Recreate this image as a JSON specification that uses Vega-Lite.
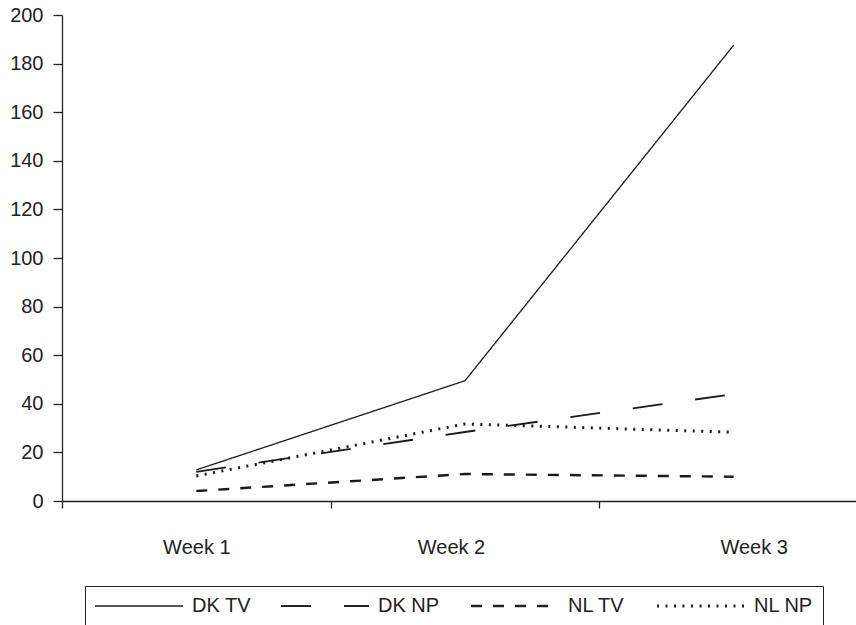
{
  "$schema": "https://vega.github.io/schema/vega-lite/v6.json",
  "width": 794,
  "height": 486,
  "autosize": {"type": "none"},
  "padding": {"left": 62, "top": 15, "right": 0, "bottom": 124},
  "background": "white",
  "config": {
    "view": {"stroke": null},
    "font": "Liberation Sans",
    "axis": {
      "domainColor": "#222",
      "tickColor": "#222",
      "labelColor": "#222",
      "labelFont": "Liberation Sans",
      "labelFontSize": 20,
      "grid": false,
      "title": null,
      "domainWidth": 1.3,
      "tickWidth": 1.3
    }
  },
  "data": {
    "values": [
      {"week": "Week 1", "series": "DK TV", "value": 12.8},
      {"week": "Week 2", "series": "DK TV", "value": 49.5},
      {"week": "Week 3", "series": "DK TV", "value": 187.6},
      {"week": "Week 1", "series": "DK NP", "value": 12},
      {"week": "Week 2", "series": "DK NP", "value": 28.4},
      {"week": "Week 3", "series": "DK NP", "value": 44},
      {"week": "Week 1", "series": "NL TV", "value": 4.1},
      {"week": "Week 2", "series": "NL TV", "value": 11.1},
      {"week": "Week 3", "series": "NL TV", "value": 10},
      {"week": "Week 1", "series": "NL NP", "value": 10.3},
      {"week": "Week 2", "series": "NL NP", "value": 31.7},
      {"week": "Week 3", "series": "NL NP", "value": 28.3}
    ]
  },
  "mark": {"type": "line", "color": "#1a1a1a"},
  "encoding": {
    "x": {
      "field": "week",
      "type": "ordinal",
      "scale": {"type": "band", "range": [0, 806], "paddingInner": 0, "paddingOuter": 0},
      "axis": {
        "labelAngle": 0,
        "tickBand": "extent",
        "tickSize": 7,
        "labelPadding": 29,
        "labelOffset": {"expr": "datum.label == 'Week 2' ? -14 : datum.label == 'Week 3' ? 20 : 0"}
      }
    },
    "y": {
      "field": "value",
      "type": "quantitative",
      "scale": {"domain": [0, 200]},
      "axis": {"values": [0, 20, 40, 60, 80, 100, 120, 140, 160, 180, 200], "tickSize": 9, "labelPadding": 10}
    },
    "strokeDash": {
      "field": "series",
      "type": "nominal",
      "scale": {
        "domain": ["DK TV", "DK NP", "NL TV", "NL NP"],
        "range": [[1, 0], [30, 33], [11, 11], [2, 6.5]]
      },
      "legend": {
        "title": null,
        "orient": "none",
        "legendX": 23,
        "legendY": 571,
        "direction": "horizontal",
        "columns": 4,
        "strokeColor": "#222",
        "padding": 10,
        "labelFont": "Liberation Sans",
        "labelFontSize": 20,
        "labelColor": "#222",
        "symbolType": "M-2,0H15.6",
        "symbolSize": 100,
        "symbolFillColor": "transparent",
        "symbolStrokeColor": "#222",
        "symbolStrokeWidth": 1.2,
        "labelOffset": 77,
        "columnPadding": 26,
        "encode": {
          "symbols": {
            "enter": {
              "strokeDash": {"signal": "datum.label == 'DK NP' ? [29, 30] : datum.label == 'NL TV' ? [5, 4] : datum.label == 'NL NP' ? [1, 2] : [1, 0]"}
            },
            "update": {
              "strokeDash": {"signal": "datum.label == 'DK NP' ? [29, 30] : datum.label == 'NL TV' ? [5, 4] : datum.label == 'NL NP' ? [1, 2] : [1, 0]"}
            }
          }
        }
      }
    },
    "strokeWidth": {
      "field": "series",
      "type": "nominal",
      "scale": {"domain": ["DK TV", "DK NP", "NL TV", "NL NP"], "range": [1.3, 3, 3, 2.5]},
      "legend": null
    }
  }
}
